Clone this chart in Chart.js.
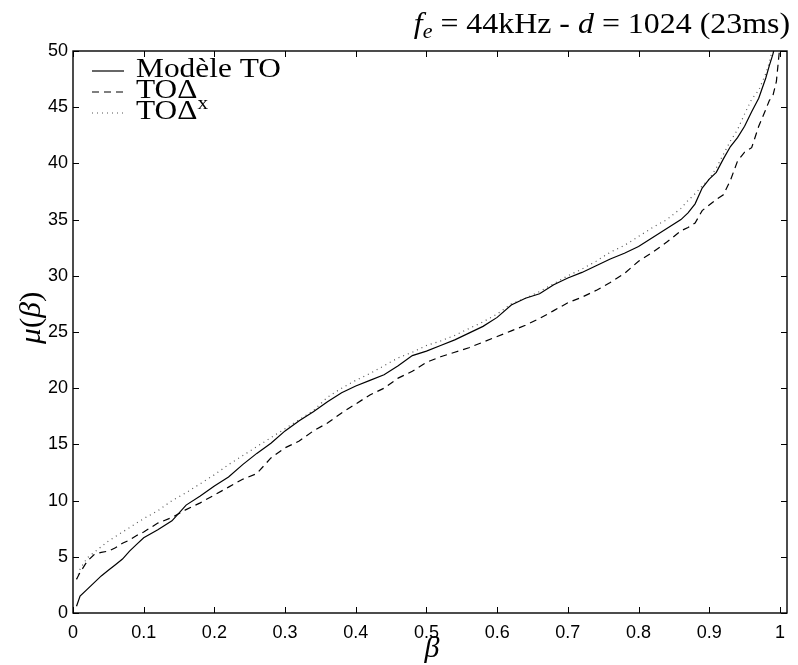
<!DOCTYPE html>
<html>
<head>
<meta charset="utf-8">
<script src="https://cdn.jsdelivr.net/npm/chart.js@4.4.1/dist/chart.umd.min.js"></script>
<style>
  html, body { margin: 0; padding: 0; background: #fff; }
  #wrap { width: 798px; height: 665px; }
</style>
</head>
<body>
<div id="wrap"><canvas id="c" width="798" height="665"></canvas></div>
<script>
// Abscissa β shared by the three curves
const beta = [0.005, 0.01, 0.02, 0.03, 0.04, 0.05, 0.06, 0.07, 0.08, 0.09, 0.10,
  0.12, 0.14, 0.16, 0.18, 0.20, 0.22, 0.24, 0.26, 0.28, 0.30, 0.32, 0.34, 0.36, 0.38,
  0.40, 0.42, 0.44, 0.46, 0.48, 0.50, 0.52, 0.54, 0.56, 0.58, 0.60, 0.62, 0.64, 0.66,
  0.68, 0.70, 0.72, 0.74, 0.76, 0.78, 0.80, 0.82, 0.84, 0.86, 0.87, 0.88, 0.89, 0.90,
  0.91, 0.92, 0.93, 0.94, 0.95, 0.96, 0.97, 0.98, 0.985, 0.99, 0.995, 1.0];

// μ(β) for the TO model (solid)
const muModele = [0.6, 1.5, 2.1, 2.7, 3.3, 3.8, 4.3, 4.8, 5.5, 6.1, 6.7,
  7.4, 8.2, 9.6, 10.4, 11.3, 12.1, 13.2, 14.2, 15.1, 16.2, 17.1, 17.9, 18.8, 19.6,
  20.2, 20.7, 21.2, 22.0, 22.9, 23.3, 23.8, 24.3, 24.9, 25.5, 26.3, 27.4, 28.0, 28.4,
  29.2, 29.8, 30.3, 30.9, 31.5, 32.0, 32.6, 33.4, 34.2, 35.0, 35.6, 36.4, 37.8, 38.6,
  39.2, 40.4, 41.5, 42.3, 43.3, 44.6, 45.8, 47.6, 48.7, 49.7, 51.0, 53.0];

// μ(β) for TOΔ (dashed)
const muTODelta = [3.0, 3.6, 4.6, 5.2, 5.4, 5.5, 5.8, 6.2, 6.5, 6.9, 7.2,
  8.0, 8.5, 9.2, 9.8, 10.5, 11.2, 11.9, 12.4, 13.8, 14.7, 15.3, 16.2, 16.9, 17.8,
  18.6, 19.4, 20.0, 20.9, 21.5, 22.3, 22.8, 23.2, 23.6, 24.1, 24.6, 25.1, 25.6, 26.2,
  26.9, 27.6, 28.1, 28.7, 29.4, 30.2, 31.3, 32.1, 33.0, 34.0, 34.3, 34.7, 35.8, 36.3,
  36.8, 37.2, 38.5, 40.2, 41.0, 41.4, 43.3, 44.8, 45.6, 46.0, 47.3, 50.5];

// μ(β) for TOΔˣ (dotted)
const muTODeltaX = [3.0, 3.9, 4.9, 5.4, 5.9, 6.4, 6.8, 7.2, 7.6, 8.0, 8.4,
  9.1, 10.0, 10.7, 11.5, 12.3, 13.2, 14.0, 14.8, 15.6, 16.4, 17.2, 18.0, 19.2, 20.0,
  20.7, 21.3, 22.0, 22.7, 23.2, 23.8, 24.2, 24.7, 25.3, 25.9, 26.6, 27.5, 28.0, 28.6,
  29.3, 30.0, 30.6, 31.3, 32.1, 32.7, 33.5, 34.3, 35.0, 36.0, 36.7, 37.3, 38.0, 38.6,
  39.6, 40.8, 42.0, 43.0, 44.4, 45.7, 46.5, 48.0, 49.0, 50.3, 52.0, 54.0];

const xTicks = [0, 0.1, 0.2, 0.3, 0.4, 0.5, 0.6, 0.7, 0.8, 0.9, 1];
const yTicks = [0, 5, 10, 15, 20, 25, 30, 35, 40, 45, 50];

const SERIF = "'Liberation Serif', 'DejaVu Serif', serif";
const SANS = "'Liberation Sans', Arial, sans-serif";

const toPoints = ys => beta.map((b, i) => ({ x: b, y: ys[i] }));

const seriesDefs = [
  { label: 'Modèle TO', values: muModele, dash: [], color: '#000', width: 1.2 },
  { label: 'TOΔ', values: muTODelta, dash: [7, 5], color: '#000', width: 1.2 },
  { label: 'TOΔ', sup: 'x', values: muTODeltaX, dash: [1, 4], color: '#555', width: 1.2 }
];

// Draws a run of text pieces (font / vertical shift), stretched horizontally by sx
function drawRuns(ctx, runs, x, y, align, sx) {
  sx = sx || 1;
  let total = 0;
  runs.forEach(r => { ctx.font = r.font; total += ctx.measureText(r.t).width; });
  ctx.save();
  ctx.translate(x, y);
  ctx.scale(sx, 1);
  let cx = align === 'right' ? -total : 0;
  runs.forEach(r => {
    ctx.font = r.font;
    ctx.fillText(r.t, cx, r.dy || 0);
    cx += ctx.measureText(r.t).width;
  });
  ctx.restore();
}

const framePlugin = {
  id: 'frame',
  afterDraw(chart) {
    const ctx = chart.ctx;
    const a = chart.chartArea;
    const xs = chart.scales.x, ys = chart.scales.y;
    ctx.save();
    ctx.strokeStyle = '#000';
    ctx.fillStyle = '#000';
    ctx.lineWidth = 1.4;
    ctx.strokeRect(a.left, a.top, a.right - a.left, a.bottom - a.top);

    // inward tick marks on all four sides
    const tl = 6;
    ctx.lineWidth = 1;
    ctx.beginPath();
    xTicks.forEach(v => {
      const px = Math.round(xs.getPixelForValue(v)) + 0.5;
      ctx.moveTo(px, a.bottom); ctx.lineTo(px, a.bottom - tl);
      ctx.moveTo(px, a.top); ctx.lineTo(px, a.top + tl);
    });
    yTicks.forEach(v => {
      const py = Math.round(ys.getPixelForValue(v)) + 0.5;
      ctx.moveTo(a.left, py); ctx.lineTo(a.left + tl, py);
      ctx.moveTo(a.right, py); ctx.lineTo(a.right - tl, py);
    });
    ctx.stroke();

    // legend in the upper-left corner of the axes
    ctx.textBaseline = 'alphabetic';
    ctx.textAlign = 'left';
    const baselines = [77, 98, 119];
    seriesDefs.forEach((s, i) => {
      const ly = baselines[i] - 6;
      ctx.save();
      ctx.strokeStyle = s.color;
      ctx.lineWidth = s.width;
      ctx.setLineDash(s.dash);
      ctx.beginPath();
      ctx.moveTo(92, ly); ctx.lineTo(124, ly);
      ctx.stroke();
      ctx.restore();
      const runs = [{ t: s.label, font: '28px ' + SERIF }];
      if (s.sup) runs.push({ t: s.sup, font: '19px ' + SERIF, dy: -10 });
      drawRuns(ctx, runs, 136, baselines[i], 'left', 1.12);
    });

    // heading above the axes, right aligned
    const up = '29px ' + SERIF, it = 'italic 29px ' + SERIF, sub = 'italic 20px ' + SERIF;
    drawRuns(ctx, [
      { t: 'f', font: it },
      { t: 'e', font: sub, dy: 5 },
      { t: ' = 44kHz - ', font: up },
      { t: 'd', font: it },
      { t: ' = 1024 (23ms)', font: up }
    ], 790, 33, 'right', 1.1);

    // axis titles
    ctx.font = 'italic 30px ' + SERIF;
    ctx.textAlign = 'center';
    ctx.fillText('β', (a.left + a.right) / 2 + 2, 657);
    ctx.textAlign = 'left';
    ctx.save();
    ctx.translate(40, 314);
    ctx.rotate(-Math.PI / 2);
    drawRuns(ctx, [
      { t: 'μ', font: 'italic 30px ' + SERIF },
      { t: '(', font: '30px ' + SERIF },
      { t: 'β', font: 'italic 30px ' + SERIF },
      { t: ')', font: '30px ' + SERIF }
    ], -30, 0, 'left', 1.05);
    ctx.restore();
    ctx.restore();
  }
};

const fmt = v => (Math.round(v * 10) / 10).toString();

new Chart(document.getElementById('c'), {
  type: 'scatter',
  data: {
    datasets: seriesDefs.map(s => ({
      label: s.sup ? s.label + s.sup : s.label,
      data: toPoints(s.values),
      showLine: true,
      borderColor: s.color,
      borderWidth: s.width,
      borderDash: s.dash,
      pointRadius: 0,
      tension: 0,
      fill: false
    }))
  },
  options: {
    responsive: false,
    animation: false,
    devicePixelRatio: 1,
    layout: { padding: { left: 0, right: 11, top: 51, bottom: 0 } },
    plugins: { legend: { display: false }, tooltip: { enabled: false }, title: { display: false } },
    scales: {
      x: {
        type: 'linear', min: 0, max: 1.01,
        afterBuildTicks: s => { s.ticks = xTicks.map(v => ({ value: v })); },
        afterFit: s => { s.height = 52; s.paddingLeft = 0; s.paddingRight = 0; },
        grid: { display: false, drawTicks: false },
        border: { display: false },
        ticks: { color: '#000', font: { family: SANS, size: 18 }, padding: 9,
                 maxRotation: 0, autoSkip: false, callback: v => fmt(v) }
      },
      y: {
        type: 'linear', min: 0, max: 50,
        afterBuildTicks: s => { s.ticks = yTicks.map(v => ({ value: v })); },
        afterFit: s => { s.width = 73; s.paddingTop = 0; s.paddingBottom = 0; },
        grid: { display: false, drawTicks: false },
        border: { display: false },
        ticks: { color: '#000', font: { family: SANS, size: 18 }, padding: 5,
                 autoSkip: false, callback: v => String(v) }
      }
    }
  },
  plugins: [framePlugin]
});
</script>
</body>
</html>
